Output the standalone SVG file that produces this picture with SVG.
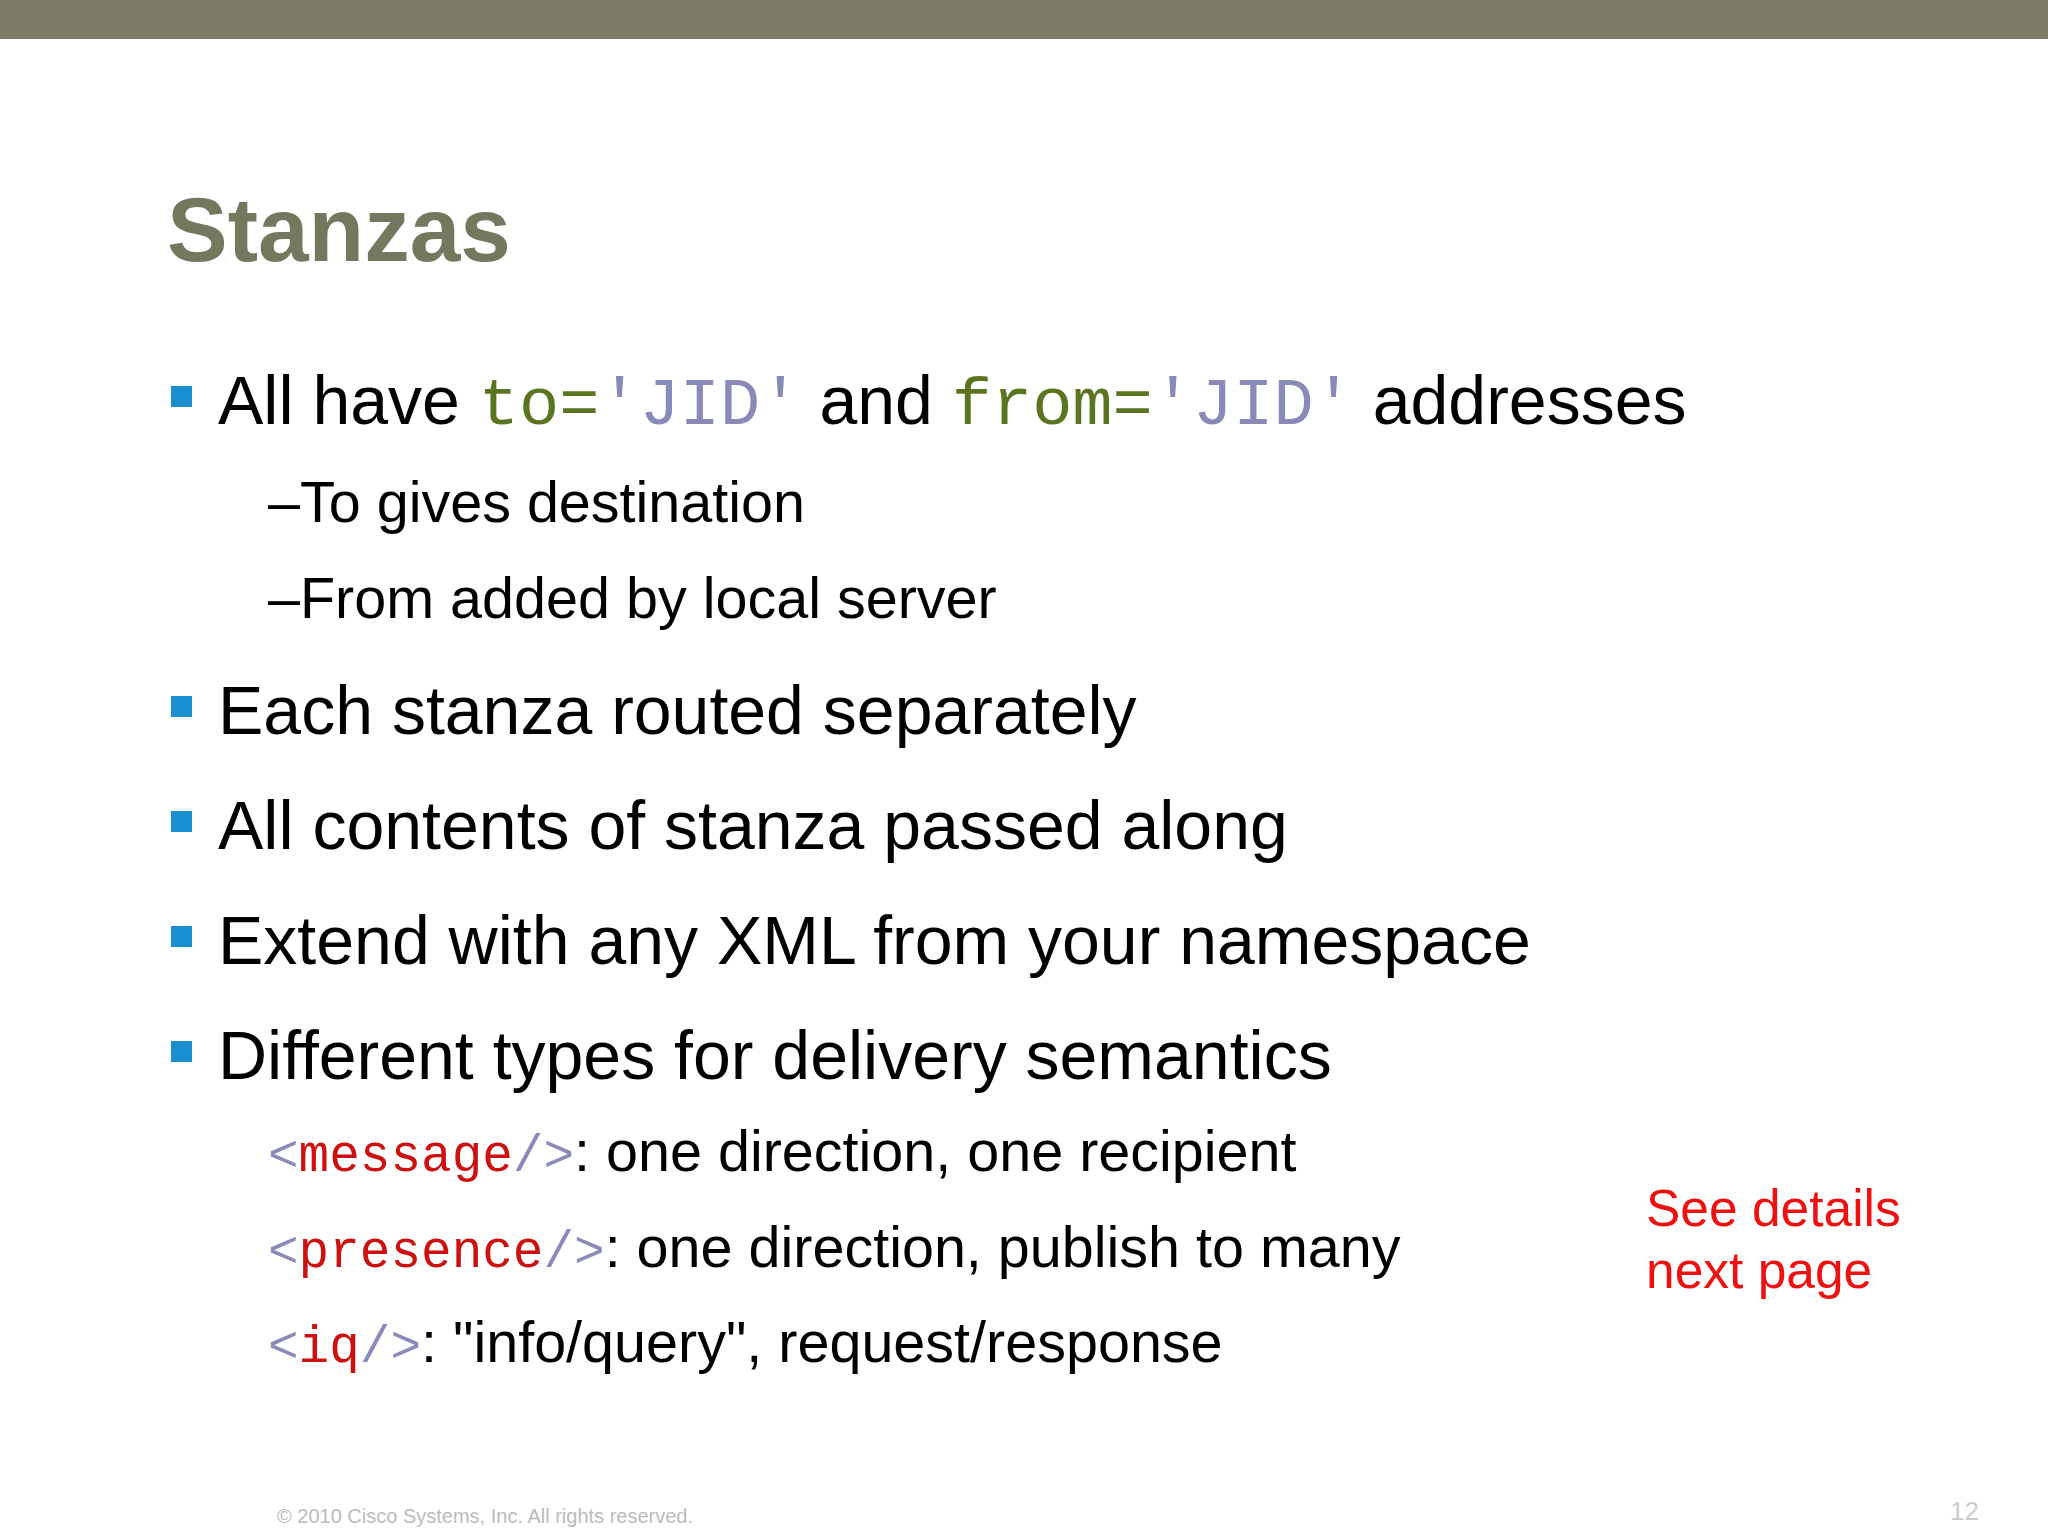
<svg xmlns="http://www.w3.org/2000/svg" width="2048" height="1536" viewBox="0 0 2048 1536">
<style>
.s{font-family:"Liberation Sans",Arial,sans-serif;fill:#000}
.m{font-family:"Liberation Mono","Courier New",monospace}
.g{fill:#5c7320}.p{fill:#8a8ab8}.r{fill:#cc1111}.b{fill:#1a8fd0}
</style>
<rect x="0" y="0" width="2048" height="39" fill="#7a7a66"/>
<text x="167" y="261" class="s" font-size="91" font-weight="bold" style="fill:#76775f">Stanzas</text>
<g id="bullets">
<rect class="b" x="171" y="386" width="21" height="21"/>
<rect class="b" x="171" y="696" width="21" height="21"/>
<rect class="b" x="171" y="811" width="21" height="21"/>
<rect class="b" x="171" y="926" width="21" height="21"/>
<rect class="b" x="171" y="1041" width="21" height="21"/>
</g>
<text x="218" y="424" class="s" font-size="68">All have <tspan class="m g" font-size="67">to=</tspan><tspan class="m p" font-size="67">'JID'</tspan> and <tspan class="m g" font-size="67">from=</tspan><tspan class="m p" font-size="67">'JID'</tspan> addresses</text>
<text x="268" y="522" class="s" font-size="57.5">–To gives destination</text>
<text x="268" y="618" class="s" font-size="57.5">–From added by local server</text>
<text x="218" y="734" class="s" font-size="68">Each stanza routed separately</text>
<text x="218" y="849" class="s" font-size="68">All contents of stanza passed along</text>
<text x="218" y="964" class="s" font-size="68">Extend with any XML from your namespace</text>
<text x="218" y="1079" class="s" font-size="68">Different types for delivery semantics</text>
<text x="268" y="1171" class="s" font-size="57.5"><tspan class="m p" font-size="51">&lt;</tspan><tspan class="m r" font-size="51">message</tspan><tspan class="m p" font-size="51">/&gt;</tspan>: one direction, one recipient</text>
<text x="268" y="1267" class="s" font-size="57.5"><tspan class="m p" font-size="51">&lt;</tspan><tspan class="m r" font-size="51">presence</tspan><tspan class="m p" font-size="51">/&gt;</tspan>: one direction, publish to many</text>
<text x="268" y="1362" class="s" font-size="57.5"><tspan class="m p" font-size="51">&lt;</tspan><tspan class="m r" font-size="51">iq</tspan><tspan class="m p" font-size="51">/&gt;</tspan>: "info/query", request/response</text>
<text x="1646" y="1226" class="s" font-size="51.5" style="fill:#ee1111">See details</text>
<text x="1646" y="1288" class="s" font-size="51.5" style="fill:#ee1111">next page</text>
<text x="277" y="1523" class="s" font-size="20" style="fill:#bbbbbb">© 2010 Cisco Systems, Inc. All rights reserved.</text>
<text x="1950" y="1520" class="s" font-size="26" style="fill:#cccccc">12</text>
</svg>
